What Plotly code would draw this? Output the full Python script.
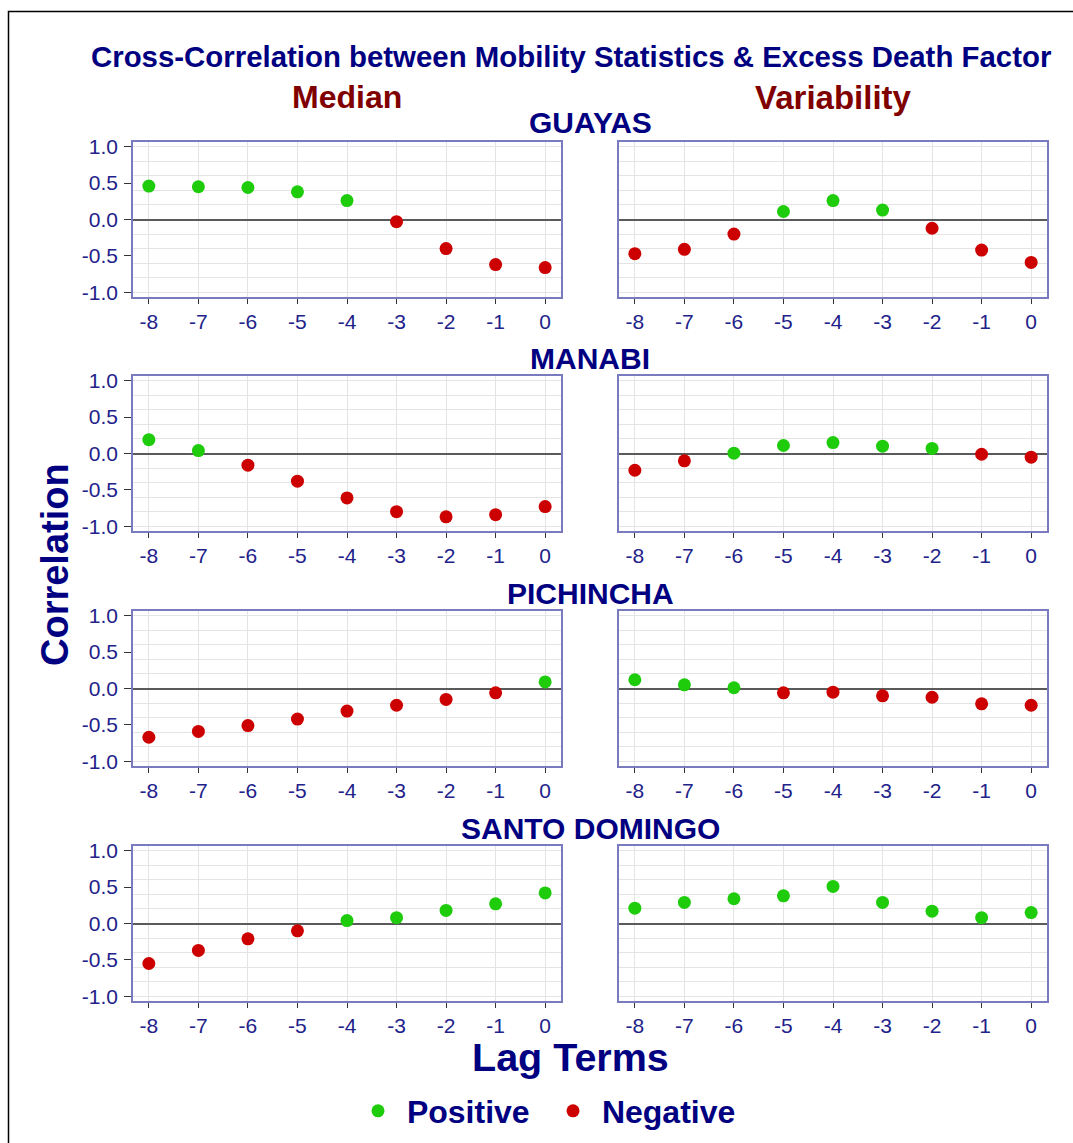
import plotly.graph_objects as go

W, H = 1073, 1143

# ---------------- data ----------------
lags = [-8, -7, -6, -5, -4, -3, -2, -1, 0]
lag_labels = ["-8", "-7", "-6", "-5", "-4", "-3", "-2", "-1", "0"]
provinces = ["GUAYAS", "MANABI", "PICHINCHA", "SANTO DOMINGO"]
y_tick_vals = [-1.0, -0.5, 0.0, 0.5, 1.0]
y_tick_text = ["-1.0", "-0.5", "0.0", "0.5", "1.0"]

guayas_median = [0.46, 0.45, 0.44, 0.38, 0.26, -0.03, -0.40, -0.62, -0.66]
guayas_var = [-0.47, -0.41, -0.20, 0.11, 0.26, 0.13, -0.12, -0.42, -0.59]
manabi_median = [0.19, 0.04, -0.16, -0.38, -0.61, -0.80, -0.87, -0.84, -0.73]
manabi_var = [-0.23, -0.10, 0.005, 0.11, 0.15, 0.10, 0.07, -0.01, -0.05]
pichincha_median = [-0.67, -0.59, -0.51, -0.42, -0.31, -0.23, -0.15, -0.06, 0.09]
pichincha_var = [0.12, 0.05, 0.01, -0.06, -0.05, -0.10, -0.12, -0.21, -0.23]
santo_median = [-0.55, -0.37, -0.21, -0.10, 0.04, 0.08, 0.18, 0.27, 0.42]
santo_var = [0.21, 0.29, 0.34, 0.38, 0.51, 0.29, 0.17, 0.08, 0.15]

panels = [
    (guayas_median, guayas_var),
    (manabi_median, manabi_var),
    (pichincha_median, pichincha_var),
    (santo_median, santo_var),
]

# ---------------- styling ----------------
GREEN = "#1ecc0c"
RED = "#cc0000"
NAVY = "#000080"
TICKCOL = "#22228a"
DARKRED = "#800000"
FRAME = "#7a7abf"
GRID = "#e4e4e4"
FONT = "Liberation Sans, Arial, sans-serif"

def px_x(x):
    return x / W

def px_y(y):
    return 1 - y / H

x_domains = [(px_x(133), px_x(561)), (px_x(619), px_x(1047))]
row_tops = [142, 376, 611, 846]
row_h = 155
XR = [-8.32, 0.32]
YR = [-1.065, 1.065]

fig = go.Figure()
layout_axes = {}

for r, (med, var) in enumerate(panels):
    for c, vals in enumerate((med, var)):
        n = 2 * r + c + 1
        xa = "x" if n == 1 else f"x{n}"
        ya = "y" if n == 1 else f"y{n}"
        pos_x = [l for l, v in zip(lags, vals) if v >= 0]
        pos_y = [v for v in vals if v >= 0]
        neg_x = [l for l, v in zip(lags, vals) if v < 0]
        neg_y = [v for v in vals if v < 0]
        fig.add_trace(go.Scatter(x=pos_x, y=pos_y, mode="markers", xaxis=xa, yaxis=ya,
                                 marker=dict(color=GREEN, size=13), showlegend=False,
                                 hoverinfo="x+y"))
        fig.add_trace(go.Scatter(x=neg_x, y=neg_y, mode="markers", xaxis=xa, yaxis=ya,
                                 marker=dict(color=RED, size=13), showlegend=False,
                                 hoverinfo="x+y"))
        top = row_tops[r]
        ydom = (px_y(top + row_h), px_y(top))
        xkey = "xaxis" if n == 1 else f"xaxis{n}"
        ykey = "yaxis" if n == 1 else f"yaxis{n}"
        layout_axes[xkey] = dict(
            domain=list(x_domains[c]), anchor=ya, range=XR, automargin=False,
            tickmode="array", tickvals=lags, ticktext=lag_labels,
            ticks="outside", ticklen=5, tickcolor="#333333", tickwidth=1,
            tickfont=dict(family=FONT, size=21, color=TICKCOL),
            showgrid=True, gridcolor=GRID, gridwidth=1,
            showline=True, linecolor=FRAME, linewidth=1.5, mirror=True,
            zeroline=False, fixedrange=True,
        )
        layout_axes[ykey] = dict(
            domain=list(ydom), anchor=xa, range=YR, automargin=False,
            tickmode="array", tickvals=y_tick_vals, ticktext=y_tick_text,
            showticklabels=(c == 0), ticks="outside" if c == 0 else "",
            ticklen=7, tickcolor="#333333", tickwidth=1, ticklabelstandoff=2,
            tickfont=dict(family=FONT, size=21, color=TICKCOL),
            showgrid=False,
            minor=dict(tickmode="linear", tick0=0, dtick=0.2, showgrid=True,
                       gridcolor=GRID, gridwidth=1, ticks=""),
            showline=True, linecolor=FRAME, linewidth=1.5, mirror=True,
            zeroline=True, zerolinecolor="#5a5a5a", zerolinewidth=1.5,
            fixedrange=True,
        )

# legend traces
fig.add_trace(go.Scatter(x=[None], y=[None], mode="markers", name="<b>\u00a0Positive</b>",
                         marker=dict(color=GREEN, size=13), xaxis="x", yaxis="y"))
fig.add_trace(go.Scatter(x=[None], y=[None], mode="markers", name="<b>\u00a0Negative</b>",
                         marker=dict(color=RED, size=13), xaxis="x", yaxis="y"))

annotations = [
    dict(text="<b>Cross-Correlation between Mobility Statistics &amp; Excess Death Factor</b>",
         x=px_x(571), y=px_y(57), font=dict(size=29.4, color=NAVY)),
    dict(text="<b>Median</b>", x=px_x(347), y=px_y(97), font=dict(size=32, color=DARKRED)),
    dict(text="<b>Variability</b>", x=px_x(833), y=px_y(97), font=dict(size=33, color=DARKRED)),
    dict(text="<b>Correlation</b>", x=px_x(55), y=px_y(565), textangle=-90,
         font=dict(size=38, color=NAVY)),
    dict(text="<b>Lag Terms</b>", x=px_x(570), y=px_y(1057), font=dict(size=39.5, color=NAVY)),
]
prov_y = [123, 358, 593, 828]
for name, yy in zip(provinces, prov_y):
    annotations.append(dict(text=f"<b>{name}</b>", x=px_x(590), y=px_y(yy),
                            font=dict(size=30, color=NAVY)))
for a in annotations:
    a.update(xref="paper", yref="paper", showarrow=False, xanchor="center", yanchor="middle")
    a["font"]["family"] = FONT

fig.update_layout(
    width=W, height=H,
    margin=dict(l=0, r=0, t=0, b=0, autoexpand=False),
    paper_bgcolor="white", plot_bgcolor="white",
    font=dict(family=FONT, color=NAVY),
    annotations=annotations,
    showlegend=True,
    legend=dict(orientation="h", x=px_x(358), y=px_y(1111), xanchor="left", yanchor="middle",
                font=dict(family=FONT, size=32, color=NAVY), itemsizing="trace",
                entrywidth=150,
                bgcolor="rgba(0,0,0,0)", tracegroupgap=0),
    shapes=[dict(type="rect", xref="paper", yref="paper",
                 x0=px_x(8.5), x1=1.05, y0=-0.05, y1=px_y(11.5),
                 line=dict(color="black", width=1.5), fillcolor="rgba(0,0,0,0)", layer="below")],
    **layout_axes,
)

fig.write_html("out.html", config={"displayModeBar": False},
               post_script="document.body.style.margin='0';document.body.style.overflow='hidden';")
